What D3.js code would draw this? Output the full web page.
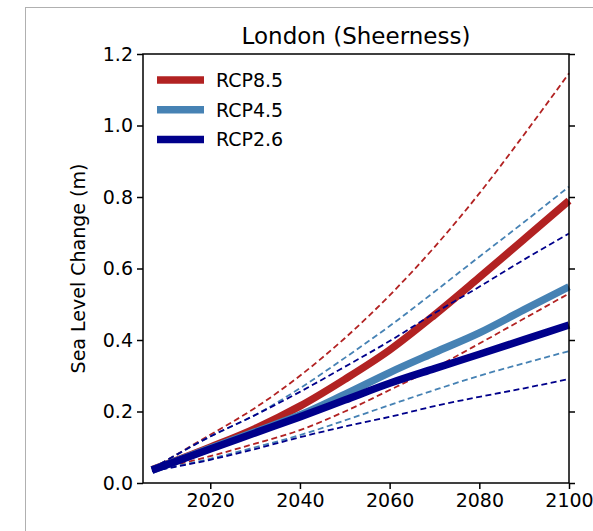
<!DOCTYPE html>
<html>
<head>
<meta charset="utf-8">
<script src="https://cdn.jsdelivr.net/npm/d3@7"></script>
<style>
  body { margin: 0; background: #fff; overflow: hidden; }
  svg { display: block; }
  text { font-family: "DejaVu Sans", sans-serif; fill: #000; }
</style>
</head>
<body>
<script>
// Sea level projections for Sheerness

var years = [2007, 2020, 2030, 2040, 2050, 2060, 2070, 2080, 2090, 2100];

var rcp85_mid = [0.037, 0.100, 0.152, 0.215, 0.290, 0.372, 0.470, 0.575, 0.682, 0.790];
var rcp85_hi  = [0.040, 0.135, 0.210, 0.300, 0.405, 0.525, 0.660, 0.810, 0.975, 1.146];
var rcp85_lo  = [0.035, 0.075, 0.110, 0.148, 0.200, 0.260, 0.322, 0.390, 0.460, 0.530];

var rcp45_mid = [0.036, 0.097, 0.143, 0.190, 0.248, 0.309, 0.365, 0.420, 0.485, 0.549];
var rcp45_hi  = [0.040, 0.130, 0.190, 0.265, 0.350, 0.439, 0.535, 0.633, 0.730, 0.829];
var rcp45_lo  = [0.034, 0.068, 0.100, 0.134, 0.175, 0.218, 0.260, 0.300, 0.335, 0.369];

var rcp26_mid = [0.036, 0.095, 0.140, 0.185, 0.232, 0.279, 0.320, 0.360, 0.401, 0.442];
var rcp26_hi  = [0.040, 0.130, 0.190, 0.255, 0.325, 0.397, 0.475, 0.549, 0.625, 0.698];
var rcp26_lo  = [0.033, 0.065, 0.095, 0.128, 0.158, 0.185, 0.215, 0.241, 0.265, 0.291];

var scenarios = ["RCP8.5", "RCP4.5", "RCP2.6"];
var colours = ["#b22222", "#4682b4", "#00008b"];
var x_ticks = [2020, 2040, 2060, 2080, 2100];
var y_ticks = [0.0, 0.2, 0.4, 0.6, 0.8, 1.0, 1.2];

var width = 593;
var height = 531;

// axes box (window.top is taken, so prefix these)
var ax_l = 143, ax_r = 569, ax_t = 54, ax_b = 483;

var svg = d3.select("body").append("svg")
  .attr("width", width)
  .attr("height", height)

// grey figure border
svg.append("rect")
  .attr("x", 25.5).attr("y", 7.5)
  .attr("width", 600).attr("height", 600)
  .attr("fill", "none")
  .attr("stroke", "#b0b0b0")
  .attr("stroke-width", 1);

var x = d3.scaleLinear().domain([2005, 2100]).range([ax_l, ax_r]);
var y = d3.scaleLinear().domain([0, 1.2]).range([ax_b, ax_t]);

var line = d3.line()
  .x(function(d) { return x(d[0]); })
  .y(function(d) { return y(d[1]); })
  .curve(d3.curveMonotoneX);

function pairs(vals) {
  return years.map(function(yr, i) { return [yr, vals[i]]; });
}

var series = [
  [rcp85_mid, rcp85_hi, rcp85_lo],
  [rcp45_mid, rcp45_hi, rcp45_lo],
  [rcp26_mid, rcp26_hi, rcp26_lo]
];

var plot = svg.append("g");

series.forEach(function(s, i) {
  plot.append("path")
    .attr("d", line(pairs(s[0])))
    .attr("fill", "none")
    .attr("stroke", colours[i])
    .attr("stroke-width", 7.5);
  [s[1], s[2]].forEach(function(v) {
    plot.append("path")
      .attr("d", line(pairs(v)))
      .attr("fill", "none")
      .attr("stroke", colours[i])
      .attr("stroke-width", 1.8)
      .attr("stroke-dasharray", "6,3.5");
  });
});

// axes
var fmt = d3.format(".1f");

var gy = svg.append("g")
  .attr("transform", "translate(" + ax_l + ",0)")
  .call(d3.axisLeft(y).tickValues(y_ticks).tickFormat(fmt).tickSize(6).tickSizeOuter(0).tickPadding(4));

var gr = svg.append("g")
  .attr("transform", "translate(" + ax_r + ",0)")
  .call(d3.axisRight(y).tickValues(y_ticks).tickFormat("").tickSize(6).tickSizeOuter(0));

var gx = svg.append("g")
  .attr("transform", "translate(0," + ax_b + ")")
  .call(d3.axisBottom(x).tickValues(x_ticks).tickFormat(d3.format("d")).tickSize(6).tickSizeOuter(0).tickPadding(5));

[gy, gr, gx].forEach(function(g) {
  g.select(".domain").remove();
  g.selectAll("line").attr("stroke", "#000").attr("stroke-width", 1.5);
  g.selectAll("text").attr("font-size", 19).attr("font-family", "DejaVu Sans").attr("fill", "#000");
});

// spines
svg.append("rect")
  .attr("x", ax_l).attr("y", ax_t)
  .attr("width", ax_r - ax_l).attr("height", ax_b - ax_t)
  .attr("fill", "none")
  .attr("stroke", "#000")
  .attr("stroke-width", 1.5);

svg.append("text")
  .attr("x", (ax_l + ax_r) / 2)
  .attr("y", 44)
  .attr("text-anchor", "middle")
  .attr("font-size", 23)
  .text("London (Sheerness)");

svg.append("text")
  .attr("transform", "translate(85," + ((ax_t + ax_b) / 2) + ") rotate(-90)")
  .attr("text-anchor", "middle")
  .attr("font-size", 19)
  .text("Sea Level Change (m)");

// legend
var legend = svg.append("g");
scenarios.forEach(function(name, i) {
  var ly = 80 + i * 29.7;
  legend.append("line")
    .attr("x1", 157).attr("x2", 204)
    .attr("y1", ly).attr("y2", ly)
    .attr("stroke", colours[i])
    .attr("stroke-width", 7.5);
  legend.append("text")
    .attr("x", 216)
    .attr("y", ly + 7)
    .attr("font-size", 19)
    .text(name);
});
</script>
</body>
</html>
